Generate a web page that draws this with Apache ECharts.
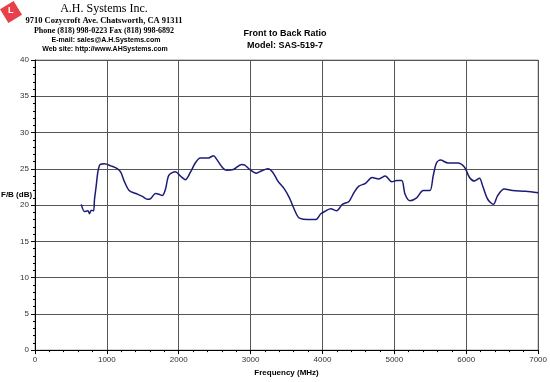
<!DOCTYPE html>
<html>
<head>
<meta charset="utf-8">
<script src="https://cdn.jsdelivr.net/npm/echarts@6/dist/echarts.min.js"></script>
<style>
  html, body { margin: 0; padding: 0; background: #fff; }
  #chart { width: 550px; height: 382px; }
</style>
</head>
<body>
<div id="chart"></div>
<script>
// frequency in MHz, front to back ratio in dB
var freqs = [644, 690, 736, 759, 782, 814, 828, 851, 874, 906, 966, 1057, 1149, 1195, 1241, 1310, 1402, 1494, 1563, 1609,
  1678, 1724, 1770, 1816, 1862, 1954, 2023, 2092, 2161, 2230, 2299, 2414, 2483, 2529, 2598, 2667, 2759, 2874, 2920, 2989,
  3080, 3149, 3241, 3310, 3379, 3471, 3540, 3586, 3646, 3678, 3793, 3908, 3977, 4046, 4115, 4198, 4276, 4368, 4437, 4506,
  4598, 4690, 4782, 4874, 4966, 5034, 5103, 5149, 5218, 5310, 5402, 5494, 5540, 5586, 5641, 5747, 5885, 5977, 6046, 6115,
  6184, 6230, 6299, 6377, 6437, 6529, 6644, 6828, 7000]
var ratios = [20.1, 19.1, 19.2, 18.8, 19.3, 19.2, 20.8, 22.6, 24.5, 25.6, 25.7, 25.4, 25.0, 24.5, 23.3, 22.0, 21.6, 21.2, 20.8, 20.9,
  21.6, 21.5, 21.3, 22.2, 24.1, 24.6, 24.0, 23.5, 24.5, 25.8, 26.5, 26.5, 26.8, 26.3, 25.3, 24.8, 24.9, 25.6, 25.5, 24.9,
  24.4, 24.7, 25.0, 24.5, 23.3, 22.2, 21.0, 19.9, 18.6, 18.2, 18.0, 18.0, 18.8, 19.2, 19.5, 19.2, 20.1, 20.5, 21.7, 22.6,
  23.0, 23.8, 23.6, 24.0, 23.2, 23.4, 23.4, 21.5, 20.6, 21.0, 22.0, 22.0, 24.0, 25.8, 26.2, 25.8, 25.8, 25.2, 23.8, 23.3,
  23.7, 22.6, 20.8, 20.1, 21.3, 22.2, 22.0, 21.9, 21.7]

var headerLines = [
  'A.H. Systems Inc.',
  '9710 Cozycroft Ave. Chatsworth, CA 91311',
  'Phone (818) 998-0223 Fax (818) 998-6892',
  'E-mail: sales@A.H.Systems.com',
  'Web site: http://www.AHSystems.com'
]
var titleLines = ['Front to Back Ratio', 'Model: SAS-519-7']

var chart = echarts.init(document.getElementById('chart'))

var points = freqs.map(function (f, i) { return [f, ratios[i]] })

var option = {
  animation: false,
  backgroundColor: '#fff',
  grid: { left: 35, right: 7, top: 60, bottom: 30, show: true, borderColor: '#999', borderWidth: 1 },
  graphic: [
    // little red logo
    {
      type: 'rect', x: 11, y: 12, originX: 0, originY: 0, rotation: 0.55,
      shape: { x: -8, y: -8, width: 16, height: 16 },
      style: { fill: '#e8404a' }
    },
    { type: 'text', x: 8, y: 6, style: { text: 'L', fill: '#fff', font: 'bold 9px Liberation Sans' } },
    { type: 'text', x: 104, y: 3, style: { text: headerLines[0], font: '12px Liberation Serif', fill: '#000', align: 'center' } },
    { type: 'text', x: 104, y: 16, style: { text: headerLines[1], font: 'bold 8.5px Liberation Serif', fill: '#000', align: 'center' } },
    { type: 'text', x: 104, y: 27, style: { text: headerLines[2], font: 'bold 8px Liberation Serif', fill: '#000', align: 'center' } },
    { type: 'text', x: 106, y: 37, style: { text: headerLines[3], font: 'bold 7px Liberation Sans', fill: '#000', align: 'center' } },
    { type: 'text', x: 105, y: 46, style: { text: headerLines[4], font: 'bold 7px Liberation Sans', fill: '#000', align: 'center' } },
    { type: 'text', x: 285, y: 29, style: { text: titleLines[0], font: 'bold 9px Liberation Sans', fill: '#000', align: 'center' } },
    { type: 'text', x: 285, y: 41, style: { text: titleLines[1], font: 'bold 9px Liberation Sans', fill: '#000', align: 'center' } },
    { type: 'text', x: 1, y: 191, style: { text: 'F/B (dB)', font: 'bold 8px Liberation Sans', fill: '#000' } }
  ],
  xAxis: {
    type: 'value', min: 0, max: 7000, interval: 1000,
    name: 'Frequency (MHz)', nameLocation: 'middle', nameGap: 18,
    nameTextStyle: { fontFamily: 'Liberation Sans', fontWeight: 'bold', fontSize: 8, color: '#000' },
    axisLine: { lineStyle: { color: '#000', width: 1 } },
    axisTick: { length: 4, lineStyle: { color: '#000' } },
    minorTick: { show: true, splitNumber: 5, length: 2, lineStyle: { color: '#000' } },
    axisLabel: { fontFamily: 'Liberation Sans', fontSize: 8, color: '#333', margin: 6, formatter: function (v) { return String(v) } },
    splitLine: { show: true, lineStyle: { color: '#555', width: 1 } }
  },
  yAxis: {
    type: 'value', min: 0, max: 40, interval: 5,
    axisLine: { show: true, lineStyle: { color: '#000', width: 1 } },
    axisTick: { show: true, length: 4, lineStyle: { color: '#000' } },
    minorTick: { show: true, splitNumber: 5, length: 2, lineStyle: { color: '#000' } },
    axisLabel: { fontFamily: 'Liberation Sans', fontSize: 8, color: '#333', margin: 6 },
    splitLine: { show: true, lineStyle: { color: '#555', width: 1 } }
  },
  series: [{
    type: 'line',
    data: points,
    smooth: 0.3,
    symbol: 'none',
    lineStyle: { color: '#1c1c78', width: 1.5 }
  }]
}

chart.setOption(option)
</script>
</body>
</html>
